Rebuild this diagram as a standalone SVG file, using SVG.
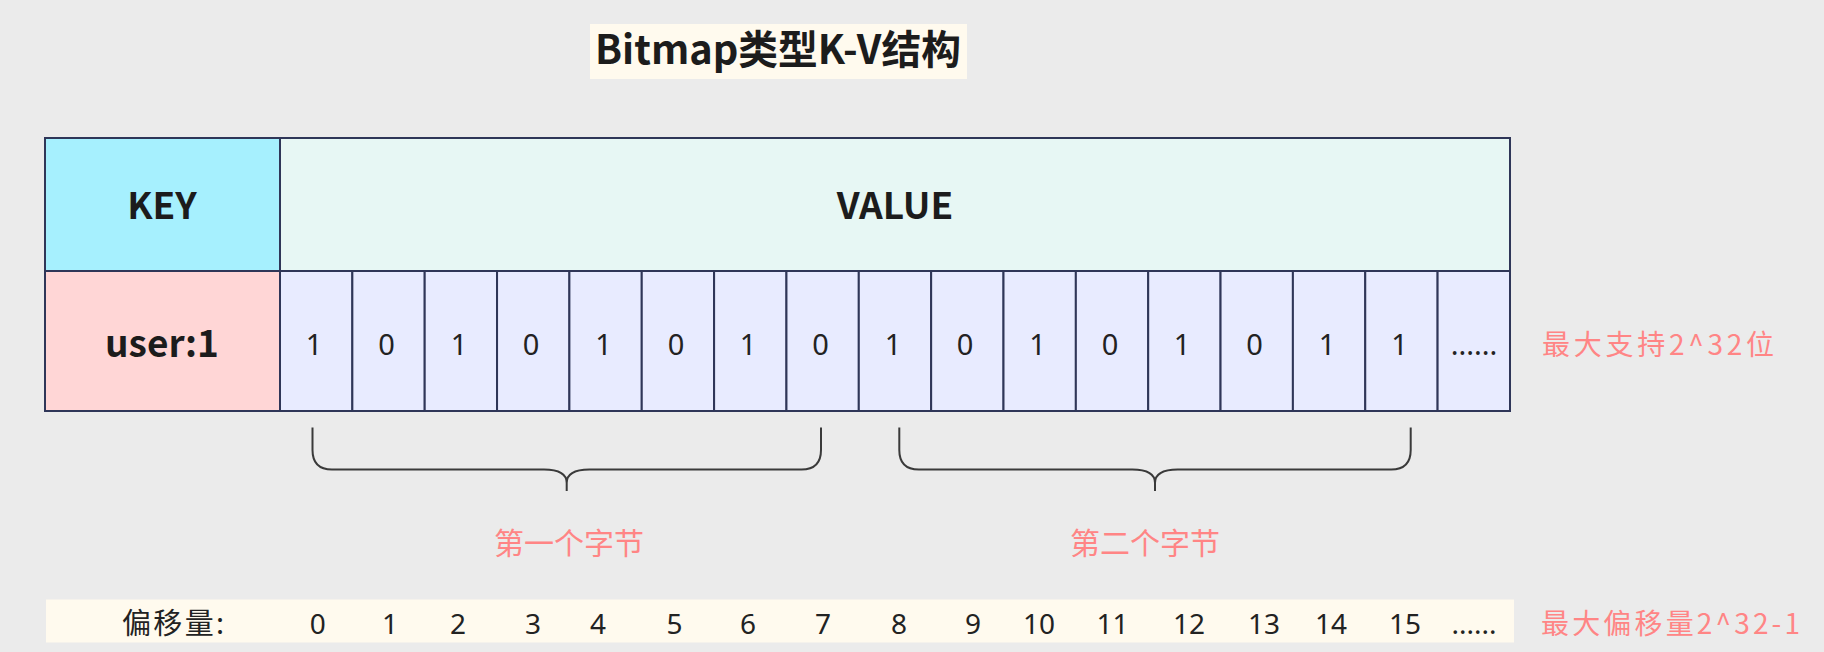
<svg xmlns="http://www.w3.org/2000/svg" width="1824" height="652" viewBox="0 0 1824 652">
<style>
.cell{stroke:#2f3658;stroke-width:2}
.bold{font-family:"Noto Sans CJK SC","Noto Sans",sans-serif;font-weight:bold;fill:#1c1c1c;text-anchor:middle}
.bit{font-family:"Noto Sans","Noto Sans CJK SC",sans-serif;font-size:29px;fill:#222;text-anchor:middle}
.off{font-family:"Noto Sans","Noto Sans CJK SC",sans-serif;font-size:28px;fill:#222;text-anchor:middle}
.note{font-family:"Noto Sans CJK SC","Noto Sans",sans-serif;fill:#FF8585}
.brace{fill:none;stroke:#3a3a3a;stroke-width:2}
</style>
<rect width="1824" height="652" fill="#EBEBEB"/>
<g id="title">
<rect x="590" y="24" width="377" height="55" fill="#FFFAEE"/>
<text class="bold" x="778" y="64" font-size="40" textLength="366" lengthAdjust="spacingAndGlyphs">Bitmap类型K-V结构</text>
</g>
<g id="key">
<rect class="cell" x="45" y="138" width="235" height="133" fill="#A6F0FE"/>
<text class="bold" x="162" y="219" font-size="37">KEY</text>
</g>
<g id="value">
<rect class="cell" x="280" y="138" width="1230" height="133" fill="#E7F7F4"/>
<text class="bold" x="895" y="219" font-size="37">VALUE</text>
</g>
<g id="user">
<rect class="cell" x="45" y="271" width="235" height="140" fill="#FFD6D6"/>
<text class="bold" x="162" y="357" font-size="37">user:1</text>
</g>
<g id="bits">
<g fill="#E8EBFF" class="cell">
<rect x="280" y="271" width="72.35" height="140"/>
<rect x="352.35" y="271" width="72.35" height="140"/>
<rect x="424.7" y="271" width="72.35" height="140"/>
<rect x="497.05" y="271" width="72.35" height="140"/>
<rect x="569.4" y="271" width="72.35" height="140"/>
<rect x="641.75" y="271" width="72.35" height="140"/>
<rect x="714.1" y="271" width="72.35" height="140"/>
<rect x="786.45" y="271" width="72.35" height="140"/>
<rect x="858.8" y="271" width="72.35" height="140"/>
<rect x="931.15" y="271" width="72.35" height="140"/>
<rect x="1003.5" y="271" width="72.35" height="140"/>
<rect x="1075.85" y="271" width="72.35" height="140"/>
<rect x="1148.2" y="271" width="72.35" height="140"/>
<rect x="1220.55" y="271" width="72.35" height="140"/>
<rect x="1292.9" y="271" width="72.35" height="140"/>
<rect x="1365.25" y="271" width="72.35" height="140"/>
<rect x="1437.6" y="271" width="72.4" height="140"/>
</g>
<text class="bit" x="314" y="355">1</text>
<text class="bit" x="386.5" y="355">0</text>
<text class="bit" x="459" y="355">1</text>
<text class="bit" x="531" y="355">0</text>
<text class="bit" x="603.5" y="355">1</text>
<text class="bit" x="676" y="355">0</text>
<text class="bit" x="748" y="355">1</text>
<text class="bit" x="820.5" y="355">0</text>
<text class="bit" x="893" y="355">1</text>
<text class="bit" x="965" y="355">0</text>
<text class="bit" x="1037.5" y="355">1</text>
<text class="bit" x="1110" y="355">0</text>
<text class="bit" x="1182" y="355">1</text>
<text class="bit" x="1254.5" y="355">0</text>
<text class="bit" x="1327" y="355">1</text>
<text class="bit" x="1399.5" y="355">1</text>
<text class="bit" x="1474" y="355">......</text>
</g>
<g id="max-bits">
<text class="note" x="1542" y="355" font-size="28" textLength="232" lengthAdjust="spacing">最大支持2^32位</text>
</g>
<g id="connectors">
<path class="brace" d="M312.5 427.5 V450 Q312.5 469.5 332 469.5 H544 C559 469.5 566.7 474 566.7 483 V491 M821 427.5 V450 Q821 469.5 801.5 469.5 H589.4 C574.4 469.5 566.7 474 566.7 483"/>
<path class="brace" d="M899.3 427.5 V450 Q899.3 469.5 918.8 469.5 H1132.3 C1147.3 469.5 1155 474 1155 483 V491 M1410.7 427.5 V450 Q1410.7 469.5 1391.2 469.5 H1177.7 C1162.7 469.5 1155 474 1155 483"/>
</g>
<g id="byte1">
<text class="note" x="569" y="554" font-size="30" text-anchor="middle">第一个字节</text>
</g>
<g id="byte2">
<text class="note" x="1145" y="554" font-size="30" text-anchor="middle">第二个字节</text>
</g>
<g id="offsets">
<rect x="46" y="599.5" width="1468" height="43" fill="#FFFAEE"/>
<text x="122" y="633.5" font-family="Noto Sans CJK SC, sans-serif" font-size="29" fill="#222" textLength="102" lengthAdjust="spacing">偏移量:</text>
<text class="off" x="317.7" y="633.5">0</text>
<text class="off" x="390" y="633.5">1</text>
<text class="off" x="458" y="633.5">2</text>
<text class="off" x="533" y="633.5">3</text>
<text class="off" x="598" y="633.5">4</text>
<text class="off" x="674.5" y="633.5">5</text>
<text class="off" x="748" y="633.5">6</text>
<text class="off" x="823" y="633.5">7</text>
<text class="off" x="899" y="633.5">8</text>
<text class="off" x="973" y="633.5">9</text>
<text class="off" x="1039" y="633.5">10</text>
<text class="off" x="1112.5" y="633.5">11</text>
<text class="off" x="1189" y="633.5">12</text>
<text class="off" x="1264" y="633.5">13</text>
<text class="off" x="1331" y="633.5">14</text>
<text class="off" x="1405" y="633.5">15</text>
<text class="off" x="1474" y="633.5">......</text>
</g>
<g id="max-offset">
<text class="note" x="1541" y="633.5" font-size="28" textLength="259" lengthAdjust="spacing">最大偏移量2^32-1</text>
</g>
</svg>
